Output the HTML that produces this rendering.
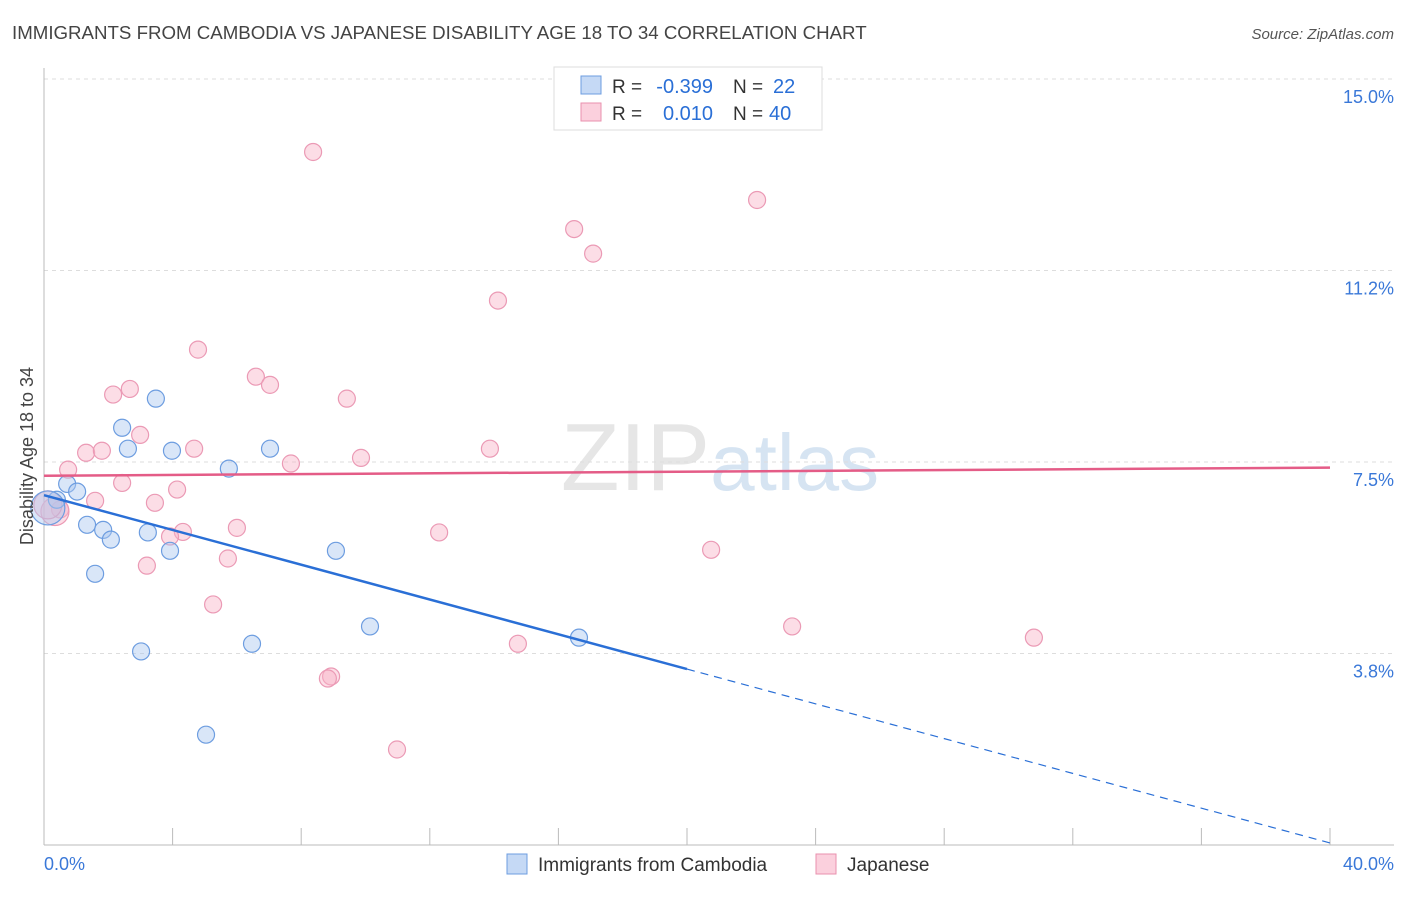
<!DOCTYPE html>
<html><head><meta charset="utf-8"><style>
body{margin:0;background:#fff;font-family:"Liberation Sans",sans-serif;}
svg text{font-family:"Liberation Sans",sans-serif;}
</style></head><body>
<svg id="chart" width="1406" height="892" viewBox="0 0 1406 892" xmlns="http://www.w3.org/2000/svg">
<text x="12" y="39" font-size="18.7" fill="#444">IMMIGRANTS FROM CAMBODIA VS JAPANESE DISABILITY AGE 18 TO 34 CORRELATION CHART</text>
<text x="1394" y="39" font-size="15" fill="#555" font-style="italic" text-anchor="end">Source: ZipAtlas.com</text>
<text x="720" y="490" font-size="96" text-anchor="middle" fill="#e6e6e6" font-family="Liberation Serif"><tspan>ZIP</tspan><tspan fill="#d6e4f2" font-family="Liberation Sans" font-size="80">atlas</tspan></text>
<g id="grid"></g>
<g id="axes"></g>
<g id="marks"></g>
<text transform="translate(33,456) rotate(-90)" font-size="18" fill="#444" text-anchor="middle">Disability Age 18 to 34</text>
<g>
<rect x="554" y="67" width="268" height="63" fill="#fff" stroke="#ddd"/>
<rect x="581" y="76" width="20" height="18" fill="#c5d9f5" stroke="#6d9de0"/>
<rect x="581" y="103" width="20" height="18" fill="#fbd0dd" stroke="#ea90ae"/>
<text x="612" y="93" font-size="19" fill="#333">R =</text>
<text x="713" y="93" font-size="20" fill="#2a6fd6" text-anchor="end">-0.399</text>
<text x="733" y="93" font-size="19" fill="#333">N =</text>
<text x="773" y="93" font-size="20" fill="#2a6fd6">22</text>
<text x="612" y="120" font-size="19" fill="#333">R =</text>
<text x="713" y="120" font-size="20" fill="#2a6fd6" text-anchor="end">0.010</text>
<text x="733" y="120" font-size="19" fill="#333">N =</text>
<text x="769" y="120" font-size="20" fill="#2a6fd6">40</text>
</g>
<g>
<rect x="507" y="854" width="20" height="20" fill="#c5d9f5" stroke="#6d9de0"/>
<text x="538" y="871" font-size="19" fill="#333">Immigrants from Cambodia</text>
<rect x="816" y="854" width="20" height="20" fill="#fbd0dd" stroke="#ea90ae"/>
<text x="847" y="871" font-size="19" fill="#333">Japanese</text>
</g>
</svg>
<script>
const xTicks=[0,4,8,12,16,20,24,28,32,36,40];
const yTicks=[3.75,7.5,11.25,15];
const yTickLabels=["3.8%","7.5%","11.2%","15.0%"];
const blueX=[0.40,0.72,1.03,1.34,1.59,1.84,2.08,2.43,2.61,3.02,3.23,3.48,3.92,3.98,5.04,5.75,6.47,7.03,9.08,10.14,16.64,0.12];
const blueY=[6.76,7.07,6.92,6.27,5.31,6.17,5.98,8.17,7.76,3.79,6.12,8.74,5.76,7.72,2.16,7.37,3.94,7.76,5.76,4.28,4.06,6.60];
const pinkX=[8.37,22.18,16.49,17.08,14.12,4.79,6.59,7.03,2.15,2.67,9.42,2.99,4.67,1.31,1.80,13.87,9.86,7.68,0.75,2.43,4.14,1.59,3.45,0.50,6.00,4.32,3.92,12.29,20.75,5.72,3.20,5.26,23.27,14.74,30.79,8.93,8.83,10.98,0.34,0.12];
const pinkY=[13.57,12.63,12.06,11.58,10.66,9.70,9.17,9.01,8.82,8.93,8.74,8.03,7.76,7.68,7.72,7.76,7.58,7.47,7.35,7.09,6.96,6.74,6.70,6.57,6.21,6.13,6.04,6.12,5.78,5.61,5.47,4.71,4.28,3.94,4.06,3.30,3.26,1.87,6.53,6.66];
const blueTrend=[6.85,0.04];
const pinkTrend=[7.23,7.39];
const X=v=>44+v*32.15, Y=v=>845-v*51.07;
const NS="http://www.w3.org/2000/svg";
function mk(tag,attrs,parent){const e=document.createElementNS(NS,tag);for(const k in attrs)e.setAttribute(k,attrs[k]);parent.appendChild(e);return e;}
const grid=document.getElementById('grid'),axes=document.getElementById('axes'),marks=document.getElementById('marks');
yTicks.forEach((t,i)=>{
 const l=mk('line',{x1:44,x2:1394,y1:Y(t),y2:Y(t),stroke:'#ddd','stroke-dasharray':'4,4'},grid);
 
 
 const tx=mk('text',{x:1394,y:Y(t)+24,'font-size':18,fill:'#3a78d8','text-anchor':'end'},axes);
 tx.textContent=yTickLabels[i];
 
 
});
const topGrid=mk('line',{x1:44,x2:1394,y1:Y(15),y2:Y(15),stroke:'#ddd','stroke-dasharray':'4,4'},grid);


const ya=mk('line',{x1:44,x2:44,y1:68,y2:845,stroke:'#bbb'},axes);


const xa=mk('line',{x1:44,x2:1394,y1:845,y2:845,stroke:'#bbb'},axes);


xTicks.forEach(t=>{
 const l=mk('line',{x1:X(t),x2:X(t),y1:828,y2:845,stroke:'#bbb'},axes);
 
 
});
const xl0=mk('text',{x:44,y:870,'font-size':18,fill:'#3a78d8'},axes);xl0.textContent='0.0%';


const xl1=mk('text',{x:1394,y:870,'font-size':18,fill:'#3a78d8','text-anchor':'end'},axes);xl1.textContent='40.0%';


function pt(x,y,r,fill,stroke,name){const c=mk('circle',{cx:X(x),cy:Y(y),r:r,fill:fill,stroke:stroke,'stroke-width':1.2},marks);
 
 }
pinkX.forEach((x,i)=>pt(x,pinkY[i],i>=38?14:8.5,'rgba(248,180,200,0.45)','#eb9ab5','japanese-point'));
blueX.forEach((x,i)=>pt(x,blueY[i],i==21?17:8.5,'rgba(170,200,240,0.45)','#6d9de0','cambodia-point'));
const pl=mk('line',{x1:X(0),y1:Y(pinkTrend[0]),x2:X(40),y2:Y(pinkTrend[1]),stroke:'#e45c87','stroke-width':2.5},marks);


const bt=v=>blueTrend[0]+(blueTrend[1]-blueTrend[0])*v/40;
const bl=mk('line',{x1:X(0),y1:Y(bt(0)),x2:X(20),y2:Y(bt(20)),stroke:'#2a6fd6','stroke-width':2.5},marks);


const bd=mk('line',{x1:X(20),y1:Y(bt(20)),x2:X(40),y2:Y(bt(40)),stroke:'#2a6fd6','stroke-width':1.2,'stroke-dasharray':'8,6'},marks);


</script>
</body></html>
